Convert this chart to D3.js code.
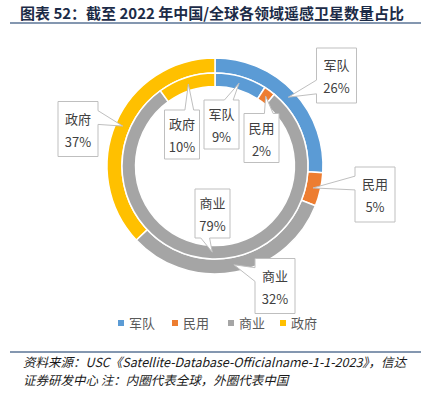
<!DOCTYPE html>
<html>
<head>
<meta charset="utf-8">
<script src="https://cdn.jsdelivr.net/npm/d3@7"></script>
<style>
  body { margin: 0; background: #fff; }
  svg text { font-family: "Noto Sans CJK SC", "Microsoft YaHei", sans-serif; }
</style>
</head>
<body>
<div id="chart"></div>
<script>
// categories and shares (%)
var categories = ["军队", "民用", "商业", "政府"];
var chinaShare = [26, 5, 32, 37];   // outer ring
var globalShare = [9, 2, 79, 10];   // inner ring
var colors = ["#5B9BD5", "#ED7D31", "#A5A5A5", "#FFC000"];

// label box centres (layout only), same order as categories
var outerLabelPos = [[336.5, 75.5], [375, 194.5], [275, 286], [78, 129]];
var innerLabelPos = [[221.5, 124.5], [261.5, 138], [212.5, 213.5], [182, 134.5]];

var width = 431, height = 396;
var cx = 215, cy = 166;

var svg = d3.select("#chart").append("svg")
    .attr("width", width)
    .attr("height", height);

// title
svg.append("text")
    .attr("x", 20)
    .attr("y", 19)
    .attr("font-size", 15)
    .attr("font-weight", "bold")
    .attr("fill", "#1c2b47")
    .text("图表 52：截至 2022 年中国/全球各领域遥感卫星数量占比");

svg.append("line")
    .attr("x1", 10).attr("x2", 421)
    .attr("y1", 23).attr("y2", 23)
    .attr("stroke", "#8497b0")
    .attr("stroke-width", 2);

var pie = d3.pie().sort(null).value(function(d) { return d; });

var rings = [
    {data: chinaShare, inner: 93, outer: 108, labels: outerLabelPos},
    {data: globalShare, inner: 79.5, outer: 93, labels: innerLabelPos}
];

var g = svg.append("g").attr("transform", "translate(" + cx + "," + cy + ")");

rings.forEach(function(ring) {
    var arc = d3.arc().innerRadius(ring.inner).outerRadius(ring.outer);
    g.append("g").selectAll("path")
        .data(pie(ring.data))
        .enter()
      .append("path")
        .attr("d", arc)
        .attr("fill", function(d, i) { return colors[i]; })
        .attr("stroke", "#fff")
        .attr("stroke-width", 1.5);
});

// Excel style wedge rect callout
function callout(bx, by, w, h, tx, ty) {
    var l = bx - w / 2, t = by - h / 2, r = bx + w / 2, b = by + h / 2;
    var dx = tx - bx, dy = ty - by;
    var dq = dx * h / w;
    var p;
    if (Math.abs(dy) > Math.abs(dq)) {
        var x1 = l + w * (dx > 0 ? 7 : 2) / 12, x2 = l + w * (dx > 0 ? 10 : 5) / 12;
        if (dy < 0)
            p = [[l, t], [x1, t], [tx, ty], [x2, t], [r, t], [r, b], [l, b]];
        else
            p = [[l, t], [r, t], [r, b], [x2, b], [tx, ty], [x1, b], [l, b]];
    } else {
        var y1 = t + h * (dy > 0 ? 7 : 2) / 12, y2 = t + h * (dy > 0 ? 10 : 5) / 12;
        if (dx < 0)
            p = [[l, t], [r, t], [r, b], [l, b], [l, y2], [tx, ty], [l, y1]];
        else
            p = [[l, t], [r, t], [r, y1], [tx, ty], [r, y2], [r, b], [l, b]];
    }
    return "M" + p.map(function(q) { return q[0] + "," + q[1]; }).join("L") + "Z";
}

var labels = svg.append("g");
rings.forEach(function(ring, ri) {
    var arc = d3.arc().innerRadius(ring.inner).outerRadius(ring.outer);
    var bw = ri === 0 ? 40 : 35, bh = ri === 0 ? 55 : 49;
    pie(ring.data).forEach(function(d, i) {
        var c = arc.centroid(d);
        var tx = c[0] + cx, ty = c[1] + cy;
        var pos = ring.labels[i];
        labels.append("path")
            .attr("d", callout(pos[0], pos[1], bw, bh, tx, ty))
            .attr("fill", "#fff")
            .attr("stroke", "#bfbfbf")
            .attr("stroke-width", 1);
        labels.append("text")
            .attr("x", pos[0])
            .attr("y", pos[1] - 10)
            .attr("dy", "0.36em")
            .attr("text-anchor", "middle")
            .attr("font-size", 13)
            .attr("fill", "#404040")
            .text(categories[i]);
        labels.append("text")
            .attr("x", pos[0])
            .attr("y", pos[1] + 13)
            .attr("dy", "0.36em")
            .attr("text-anchor", "middle")
            .attr("font-size", 13)
            .attr("fill", "#404040")
            .text(d.data + "%");
    });
});

// legend
var legendX = [118, 172, 228, 280];
var legend = svg.append("g");
categories.forEach(function(c, i) {
    legend.append("rect")
        .attr("x", legendX[i])
        .attr("y", 320)
        .attr("width", 6)
        .attr("height", 6)
        .attr("fill", colors[i]);
    legend.append("text")
        .attr("x", legendX[i] + 11)
        .attr("y", 323)
        .attr("dy", "0.36em")
        .attr("font-size", 13)
        .attr("fill", "#595959")
        .text(c);
});

// source footer
svg.append("line")
    .attr("x1", 10).attr("x2", 421)
    .attr("y1", 352).attr("y2", 352)
    .attr("stroke", "#8497b0")
    .attr("stroke-width", 2);

var foot = [
    "资料来源：USC《Satellite-Database-Officialname-1-1-2023》，信达",
    "证券研发中心 注：内圈代表全球，外圈代表中国"
];
svg.selectAll(".foot")
    .data(foot)
    .enter()
  .append("text")
    .attr("class", "foot")
    .attr("x", 23)
    .attr("y", function(d, i) { return 362 + i * 18; })
    .attr("dy", "0.36em")
    .attr("font-size", 12.5)
    .attr("font-style", "italic")
    .attr("fill", "#1a1a1a")
    .text(function(d) { return d; });
</script>
</body>
</html>
